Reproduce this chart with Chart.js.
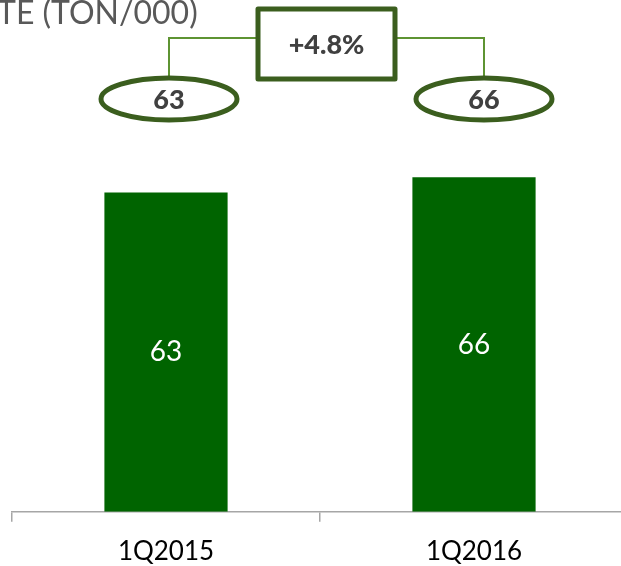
<!DOCTYPE html>
<html>
<head>
<meta charset="utf-8">
<script src="https://cdn.jsdelivr.net/npm/chart.js@4/dist/chart.umd.min.js"></script>
<style>
  html, body { margin: 0; padding: 0; background: #fff; overflow: hidden; }
  #wrap { position: relative; width: 640px; height: 581px; }
</style>
</head>
<body>
<div id="wrap"><canvas id="rateChart" width="640" height="581"></canvas></div>
<script>
const quarters = ['1Q2015', '1Q2016'];
const rates = [63, 66];
const titleText = 'TE (TON/000)';

const FONT = 'Lato, "Open Sans", sans-serif';
const BOX_GREEN = '#3b5e1e';
const LINE_GREEN = '#5e9432';
const DARK_TEXT = '#404040';

// white value inside each bar
const barLabels = {
  id: 'barLabels',
  afterDatasetsDraw(chart) {
    const ctx = chart.ctx;
    const meta = chart.getDatasetMeta(0);
    ctx.save();
    ctx.fillStyle = '#fff';
    ctx.font = '28px ' + FONT;
    ctx.textAlign = 'center';
    ctx.textBaseline = 'middle';
    meta.data.forEach((bar, i) => {
      ctx.fillText(String(rates[i]), bar.x, (bar.y + bar.base) / 2);
    });
    ctx.restore();
  }
};

// title, value ovals and growth bracket above the bars
const callout = {
  id: 'callout',
  afterDraw(chart) {
    const ctx = chart.ctx;
    const meta = chart.getDatasetMeta(0);
    const shift = [3, 10];
    const cx = meta.data.map((bar, i) => bar.x + shift[i]);
    const ovalY = 99, rx = 68, ry = 21;
    const lineY = 38;
    const box = { left: 258, right: 395, top: 9, bottom: 79 };

    ctx.save();
    ctx.fillStyle = '#595959';
    ctx.font = '32px ' + FONT;
    ctx.textAlign = 'left';
    ctx.textBaseline = 'alphabetic';
    ctx.fillText(titleText, -3, 24);

    // bracket lines
    ctx.strokeStyle = LINE_GREEN;
    ctx.lineWidth = 2;
    ctx.beginPath();
    ctx.moveTo(box.left, lineY);
    ctx.lineTo(cx[0], lineY);
    ctx.lineTo(cx[0], ovalY - ry);
    ctx.moveTo(box.right, lineY);
    ctx.lineTo(cx[1], lineY);
    ctx.lineTo(cx[1], ovalY - ry);
    ctx.stroke();

    // growth box
    const growth = ((rates[1] - rates[0]) / rates[0] * 100).toFixed(1);
    ctx.fillStyle = '#fff';
    ctx.fillRect(box.left, box.top, box.right - box.left, box.bottom - box.top);
    ctx.strokeStyle = BOX_GREEN;
    ctx.lineWidth = 5;
    ctx.lineJoin = 'round';
    ctx.strokeRect(box.left, box.top, box.right - box.left, box.bottom - box.top);
    ctx.fillStyle = DARK_TEXT;
    ctx.font = '900 27px ' + FONT;
    ctx.textAlign = 'center';
    ctx.textBaseline = 'middle';
    ctx.fillText('+' + growth + '%', (box.left + box.right) / 2, (box.top + box.bottom) / 2 + 1);

    // value ovals
    cx.forEach((x, i) => {
      ctx.beginPath();
      ctx.ellipse(x, ovalY, rx, ry, 0, 0, Math.PI * 2);
      ctx.fillStyle = '#fff';
      ctx.fill();
      ctx.strokeStyle = BOX_GREEN;
      ctx.lineWidth = 5;
      ctx.stroke();
      ctx.fillStyle = DARK_TEXT;
      ctx.font = '900 27px ' + FONT;
      ctx.fillText(String(rates[i]), x, ovalY + 1);
    });
    ctx.restore();
  }
};

new Chart(document.getElementById('rateChart'), {
  type: 'bar',
  data: {
    labels: quarters,
    datasets: [{
      data: rates,
      backgroundColor: '#006400',
      borderWidth: 0,
      barPercentage: 0.4,
      categoryPercentage: 1
    }]
  },
  options: {
    responsive: false,
    animation: false,
    layout: { padding: { top: 5, left: 12, right: 12, bottom: 0 } },
    plugins: {
      legend: { display: false },
      tooltip: { enabled: false }
    },
    scales: {
      x: {
        grid: {
          drawOnChartArea: false,
          drawTicks: true,
          tickLength: 10,
          color: '#a6a6a6',
          lineWidth: 1.5
        },
        border: { display: true, color: '#a6a6a6', width: 1.5 },
        ticks: {
          color: '#000',
          padding: 14,
          font: { family: FONT, size: 26 }
        }
      },
      y: {
        display: false,
        min: 0,
        max: 100
      }
    }
  },
  plugins: [barLabels, callout]
});
</script>
</body>
</html>
